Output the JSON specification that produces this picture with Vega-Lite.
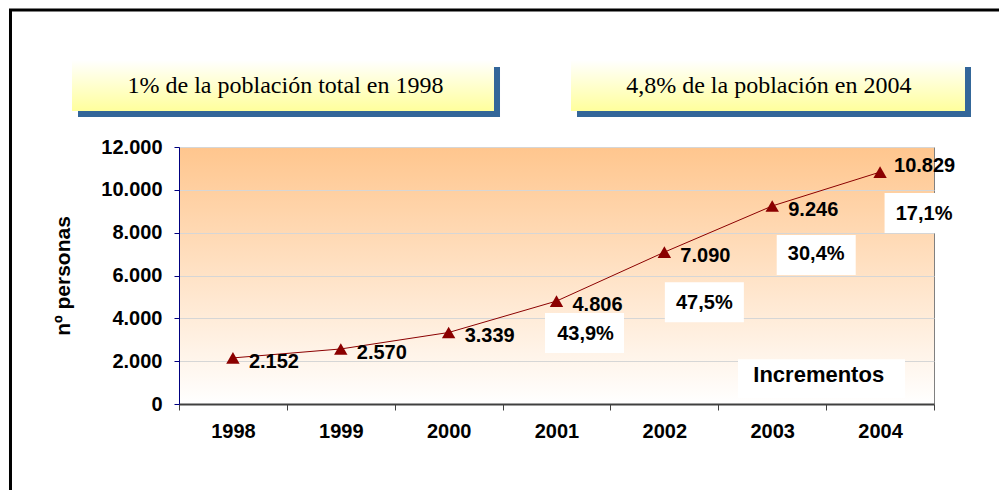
{
  "$schema": "https://vega.github.io/schema/vega-lite/v6.json",
  "width": 755,
  "height": 257,
  "autosize": "none",
  "padding": {"left": 179, "top": 147, "right": 65, "bottom": 86},
  "background": "white",
  "config": {
    "font": "Liberation Sans",
    "locale": {"number": {"decimal": ",", "thousands": ".", "grouping": [3], "currency": ["", " €"]}}
  },
  "view": {
    "fill": {"gradient": "linear", "x1": 0, "y1": 0, "x2": 0, "y2": 1, "stops": [{"offset": 0, "color": "#FFC68E"}, {"offset": 1, "color": "#FFFFFF"}]},
    "stroke": "#808080",
    "strokeWidth": 1
  },
  "data": {"values": [
    {"year": "1998", "value": 2152, "incr": null},
    {"year": "1999", "value": 2570, "incr": null},
    {"year": "2000", "value": 3339, "incr": null},
    {"year": "2001", "value": 4806, "incr": 0.439},
    {"year": "2002", "value": 7090, "incr": 0.475},
    {"year": "2003", "value": 9246, "incr": 0.304},
    {"year": "2004", "value": 10829, "incr": 0.171}
  ]},
  "resolve": {"scale": {"x": "independent", "y": "independent"}},
  "layer": [
    {
      "data": {"values": [{}]},
      "layer": [
        {
          "mark": {"type": "rect", "clip": false, "fillOpacity": 0, "stroke": "black", "strokeWidth": 3},
          "encoding": {
            "x": {"datum": -1.5623, "type": "quantitative", "scale": {"domain": [0, 7], "nice": false, "zero": false}, "axis": null},
            "x2": {"datum": 7.8},
            "y": {"datum": 18397, "type": "quantitative", "scale": {"domain": [0, 12000], "nice": false, "zero": false}, "axis": null},
            "y2": {"datum": -4700}
          }
        },
        {
          "mark": {"type": "rect", "clip": false, "fill": "#336699"},
          "encoding": {
            "x": {"datum": -0.9364, "type": "quantitative", "axis": null},
            "x2": {"datum": 2.9762},
            "y": {"datum": 15736, "type": "quantitative", "axis": null},
            "y2": {"datum": 13401}
          }
        },
        {
          "mark": {"type": "rect", "clip": false, "fill": "#336699"},
          "encoding": {
            "x": {"datum": 3.6901, "type": "quantitative", "axis": null},
            "x2": {"datum": 7.3430},
            "y": {"datum": 15736, "type": "quantitative", "axis": null},
            "y2": {"datum": 13401}
          }
        },
        {
          "mark": {"type": "rect", "clip": false, "fill": {"gradient": "linear", "x1": 0, "y1": 0, "x2": 0, "y2": 1, "stops": [{"offset": 0, "color": "#FFFFFF"}, {"offset": 1, "color": "#FFFF9C"}]}},
          "encoding": {
            "x": {"datum": -0.9920, "type": "quantitative", "axis": null},
            "x2": {"datum": 2.9205},
            "y": {"datum": 16062, "type": "quantitative", "axis": null},
            "y2": {"datum": 13681}
          }
        },
        {
          "mark": {"type": "rect", "clip": false, "fill": {"gradient": "linear", "x1": 0, "y1": 0, "x2": 0, "y2": 1, "stops": [{"offset": 0, "color": "#FFFFFF"}, {"offset": 1, "color": "#FFFF9C"}]}},
          "encoding": {
            "x": {"datum": 3.6344, "type": "quantitative", "axis": null},
            "x2": {"datum": 7.2874},
            "y": {"datum": 16062, "type": "quantitative", "axis": null},
            "y2": {"datum": 13681}
          }
        },
        {
          "mark": {"type": "text", "clip": false, "text": "1% de la población total en 1998", "font": "Liberation Serif", "fontSize": 24, "color": "black", "align": "center", "baseline": "middle"},
          "encoding": {
            "x": {"datum": 0.9874, "type": "quantitative", "axis": null},
            "y": {"datum": 14850, "type": "quantitative", "axis": null}
          }
        },
        {
          "mark": {"type": "text", "clip": false, "text": "4,8% de la población en 2004", "font": "Liberation Serif", "fontSize": 24, "color": "black", "align": "center", "baseline": "middle"},
          "encoding": {
            "x": {"datum": 5.4684, "type": "quantitative", "axis": null},
            "y": {"datum": 14850, "type": "quantitative", "axis": null}
          }
        },
        {
          "mark": {"type": "rect", "clip": false, "fill": "white"},
          "encoding": {
            "x": {"datum": 5.1827, "type": "quantitative", "axis": null},
            "x2": {"datum": 6.7311},
            "y": {"datum": 2087, "type": "quantitative", "axis": null},
            "y2": {"datum": 280}
          }
        },
        {
          "mark": {"type": "text", "clip": false, "text": "Incrementos", "fontSize": 22, "fontWeight": "bold", "color": "black", "align": "center", "baseline": "middle"},
          "encoding": {
            "x": {"datum": 5.9311, "type": "quantitative", "axis": null},
            "y": {"datum": 1331, "type": "quantitative", "axis": null}
          }
        }
      ]
    },
    {
      "encoding": {
        "x": {
          "field": "year", "type": "ordinal",
          "scale": {"type": "band", "paddingInner": 0, "paddingOuter": 0},
          "axis": {"title": null, "labelAngle": 0, "tickBand": "extent", "domainColor": "#404040", "domainWidth": 2, "tickColor": "#404040", "tickSize": 6, "tickWidth": 1, "labelFontSize": 20, "labelFontWeight": "bold", "labelColor": "black", "labelPadding": 11, "grid": false}
        },
        "y": {
          "field": "value", "type": "quantitative",
          "scale": {"domain": [0, 12000], "nice": false},
          "axis": {"values": [0, 2000, 4000, 6000, 8000, 10000, 12000], "format": ",d", "domainColor": "#000080", "domainWidth": 1, "tickColor": "#000080", "tickSize": 5, "labelFontSize": 20, "labelFontWeight": "bold", "labelColor": "black", "labelPadding": 12, "grid": true, "gridColor": "#D6D6D6", "gridWidth": 1, "title": "nº personas", "titleFontSize": 21, "titleFontWeight": "bold", "titleColor": "black", "titlePadding": 27}
        }
      },
      "layer": [
        {"mark": {"type": "line", "color": "#8B0000", "strokeWidth": 1}},
        {"mark": {"type": "point", "shape": "triangle-up", "filled": true, "color": "#8B0000", "size": 180, "opacity": 1}},
        {
          "transform": [{"filter": "datum.year != '2004'"}],
          "mark": {"type": "text", "align": "left", "baseline": "middle", "dx": 16, "dy": 4, "fontSize": 20, "fontWeight": "bold", "color": "black"},
          "encoding": {"text": {"field": "value", "type": "quantitative", "format": ",d"}}
        },
        {
          "transform": [{"filter": "datum.year == '2004'"}],
          "mark": {"type": "text", "align": "left", "baseline": "middle", "dx": 14, "dy": -6, "fontSize": 20, "fontWeight": "bold", "color": "black"},
          "encoding": {"text": {"field": "value", "type": "quantitative", "format": ",d"}}
        },
        {
          "transform": [{"filter": "datum.year == '2001'"}],
          "layer": [
            {"mark": {"type": "point", "shape": "M-1,-0.506L1,-0.506L1,0.506L-1,0.506Z", "size": 6241, "filled": true, "fill": "white", "opacity": 1, "strokeWidth": 0, "xOffset": 28, "yOffset": 32}},
            {"mark": {"type": "text", "align": "center", "baseline": "middle", "fontSize": 20, "fontWeight": "bold", "color": "black", "xOffset": 29, "yOffset": 33}, "encoding": {"text": {"field": "incr", "type": "quantitative", "format": ".1%"}}}
          ]
        },
        {
          "transform": [{"filter": "datum.year == '2002'"}],
          "layer": [
            {"mark": {"type": "point", "shape": "M-1,-0.506L1,-0.506L1,0.506L-1,0.506Z", "size": 6241, "filled": true, "fill": "white", "opacity": 1, "strokeWidth": 0, "xOffset": 40, "yOffset": 50}},
            {"mark": {"type": "text", "align": "center", "baseline": "middle", "fontSize": 20, "fontWeight": "bold", "color": "black", "xOffset": 40, "yOffset": 51}, "encoding": {"text": {"field": "incr", "type": "quantitative", "format": ".1%"}}}
          ]
        },
        {
          "transform": [{"filter": "datum.year == '2003'"}],
          "layer": [
            {"mark": {"type": "point", "shape": "M-1,-0.506L1,-0.506L1,0.506L-1,0.506Z", "size": 6241, "filled": true, "fill": "white", "opacity": 1, "strokeWidth": 0, "xOffset": 44, "yOffset": 49}},
            {"mark": {"type": "text", "align": "center", "baseline": "middle", "fontSize": 20, "fontWeight": "bold", "color": "black", "xOffset": 44, "yOffset": 48}, "encoding": {"text": {"field": "incr", "type": "quantitative", "format": ".1%"}}}
          ]
        },
        {
          "transform": [{"filter": "datum.year == '2004'"}],
          "layer": [
            {"mark": {"type": "point", "shape": "M-1,-0.506L1,-0.506L1,0.506L-1,0.506Z", "size": 6241, "filled": true, "fill": "white", "opacity": 1, "strokeWidth": 0, "xOffset": 44, "yOffset": 41, "clip": false}},
            {"mark": {"type": "text", "align": "center", "baseline": "middle", "fontSize": 20, "fontWeight": "bold", "color": "black", "xOffset": 44, "yOffset": 42}, "encoding": {"text": {"field": "incr", "type": "quantitative", "format": ".1%"}}}
          ]
        }
      ]
    }
  ]
}
